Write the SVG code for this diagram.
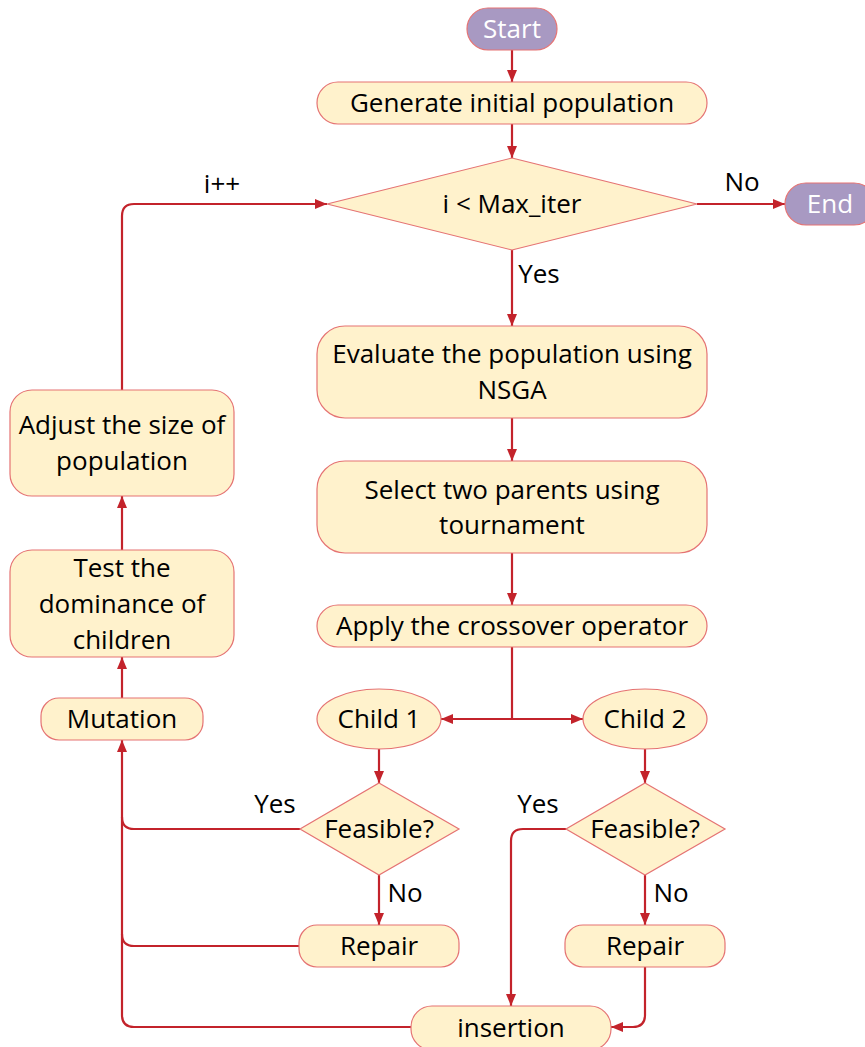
<svg xmlns="http://www.w3.org/2000/svg" width="865" height="1047" viewBox="0 0 865 1047">
<defs>
<marker id="ah" viewBox="0 0 12 10" refX="12" refY="5" markerWidth="12" markerHeight="10" markerUnits="userSpaceOnUse" orient="auto">
<path d="M0,0 L12,5 L0,10 Z" fill="#c3232b"/>
</marker>
<style>
.n{fill:#fff2cc;stroke:#e57373;stroke-width:1.2}
.t{fill:#a899c2;stroke:#e57373;stroke-width:1.2}
.c{fill:none;stroke:#c3232b;stroke-width:2.2}
text{font-family:"Open Sans","Liberation Sans",Arial,sans-serif;font-size:26px;fill:#000;text-anchor:middle;dominant-baseline:central}
.w{fill:#fff}
</style>
</defs>
<rect width="865" height="1047" fill="#fff"/>
<g id="connectors">
<path class="c" d="M512,50 V82" marker-end="url(#ah)"/>
<path class="c" d="M512,124 V158" marker-end="url(#ah)"/>
<path class="c" d="M697,204 H785" marker-end="url(#ah)"/>
<path class="c" d="M512,250 V326" marker-end="url(#ah)"/>
<path class="c" d="M512,418 V461" marker-end="url(#ah)"/>
<path class="c" d="M512,553 V605" marker-end="url(#ah)"/>
<path class="c" d="M512,647 V719"/>
<path class="c" d="M512,719 H441" marker-end="url(#ah)"/>
<path class="c" d="M512,719 H583" marker-end="url(#ah)"/>
<path class="c" d="M379,749 V783" marker-end="url(#ah)"/>
<path class="c" d="M379,875 V925" marker-end="url(#ah)"/>
<path class="c" d="M645,749 V783" marker-end="url(#ah)"/>
<path class="c" d="M645,875 V925" marker-end="url(#ah)"/>
<path class="c" d="M300,829 H134 Q122,829 122,817"/>
<path class="c" d="M299,946 H134 Q122,946 122,934"/>
<path class="c" d="M411,1027 H134 Q122,1027 122,1015 V740" marker-end="url(#ah)"/>
<path class="c" d="M566,829 H523 Q511,829 511,841 V1006" marker-end="url(#ah)"/>
<path class="c" d="M645,967 V1015 Q645,1027 633,1027 H611" marker-end="url(#ah)"/>
<path class="c" d="M122,698 V657" marker-end="url(#ah)"/>
<path class="c" d="M122,550 V496" marker-end="url(#ah)"/>
<path class="c" d="M122,390 V216 Q122,204 134,204 H327" marker-end="url(#ah)"/>
</g>
<g id="labels">
<text x="742" y="181">No</text>
<text x="539" y="273">Yes</text>
<text x="222" y="183">i++</text>
<text x="275" y="803">Yes</text>
<text x="405" y="892">No</text>
<text x="538" y="803">Yes</text>
<text x="671" y="892">No</text>
</g>
<g id="start"><rect class="t" x="467" y="8" width="90" height="42" rx="21"/><text class="w" x="512" y="28">Start</text></g>
<g id="generate"><rect class="n" x="317" y="82" width="390" height="42" rx="21"/><text x="512" y="102">Generate initial population</text></g>
<g id="cond"><path class="n" d="M512,158 L697,204 L512,250 L327,204 Z"/><text x="512" y="203">i &lt; Max_iter</text></g>
<g id="end"><rect class="t" x="785" y="183" width="90" height="42" rx="21"/><text class="w" x="830" y="203">End</text></g>
<g id="evaluate"><rect class="n" x="317" y="326" width="390" height="92" rx="28"/><text x="512" y="353">Evaluate the population using</text><text x="512" y="389">NSGA</text></g>
<g id="select"><rect class="n" x="317" y="461" width="390" height="92" rx="28"/><text x="512" y="489">Select two parents using</text><text x="512" y="524">tournament</text></g>
<g id="crossover"><rect class="n" x="317" y="605" width="390" height="42" rx="21"/><text x="512" y="625">Apply the crossover operator</text></g>
<g id="child1"><ellipse class="n" cx="379" cy="719" rx="62" ry="30"/><text x="379" y="718">Child 1</text></g>
<g id="child2"><ellipse class="n" cx="645" cy="719" rx="62" ry="30"/><text x="645" y="718">Child 2</text></g>
<g id="feasible1"><path class="n" d="M379,783 L459,829 L379,875 L300,829 Z"/><text x="379" y="828">Feasible?</text></g>
<g id="feasible2"><path class="n" d="M645,783 L725,829 L645,875 L566,829 Z"/><text x="645" y="828">Feasible?</text></g>
<g id="repair1"><rect class="n" x="299" y="925" width="160" height="42" rx="18"/><text x="379" y="945">Repair</text></g>
<g id="repair2"><rect class="n" x="565" y="925" width="160" height="42" rx="18"/><text x="645" y="945">Repair</text></g>
<g id="insertion"><rect class="n" x="411" y="1006" width="200" height="44" rx="21"/><text x="511" y="1027">insertion</text></g>
<g id="mutation"><rect class="n" x="41" y="698" width="162" height="42" rx="18"/><text x="122" y="718">Mutation</text></g>
<g id="test"><rect class="n" x="10" y="550" width="224" height="107" rx="22"/><text x="122" y="567">Test the</text><text x="122" y="603">dominance of</text><text x="122" y="639">children</text></g>
<g id="adjust"><rect class="n" x="10" y="390" width="224" height="106" rx="22"/><text x="122" y="424">Adjust the size of</text><text x="122" y="460">population</text></g>
</svg>
